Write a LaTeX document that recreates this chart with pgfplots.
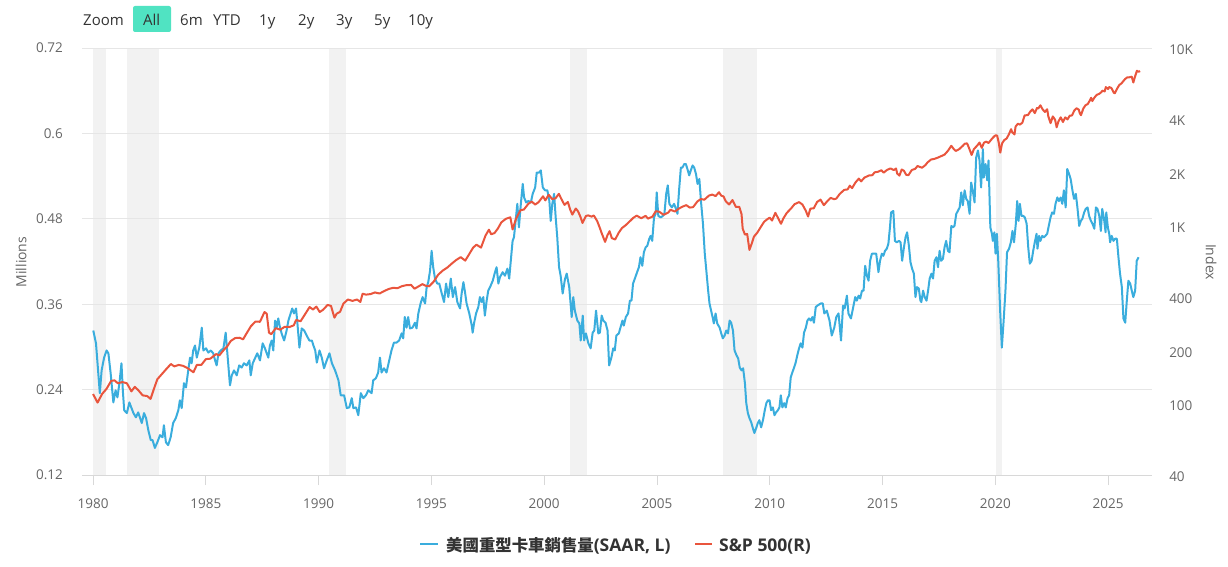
\documentclass[border=0pt]{standalone}
\usepackage{fontspec}
\setmainfont{Open Sans}
\newfontfamily\cjk{Noto Sans CJK TC}
\usepackage{pgfplots}
\pgfplotsset{compat=1.18}
\usepackage{pgfplotstable}
\definecolor{tblue}{HTML}{3AADDD}
\definecolor{sred}{HTML}{E9553D}
\definecolor{gridc}{HTML}{E6E6E6}
\definecolor{band}{HTML}{F2F2F2}
\definecolor{axisc}{HTML}{D8D8D8}
\definecolor{labc}{HTML}{666666}
\definecolor{btn}{HTML}{50E3C2}
\definecolor{txt}{HTML}{333333}

\pgfplotstableread{
x y
1980.01 0.323
1980.13 0.305
1980.30 0.235
1980.38 0.267
1980.49 0.285
1980.60 0.295
1980.68 0.291
1980.78 0.263
1980.90 0.222
1981.00 0.239
1981.08 0.229
1981.17 0.249
1981.26 0.277
1981.32 0.239
1981.38 0.211
1981.50 0.207
1981.61 0.222
1981.79 0.207
1981.90 0.201
1982.00 0.208
1982.16 0.193
1982.26 0.207
1982.35 0.200
1982.45 0.183
1982.56 0.169
1982.64 0.169
1982.74 0.158
1982.85 0.166
1982.97 0.176
1983.08 0.173
1983.14 0.190
1983.23 0.166
1983.33 0.162
1983.44 0.173
1983.55 0.193
1983.67 0.200
1983.78 0.211
1983.85 0.225
1983.93 0.214
1984.03 0.249
1984.12 0.243
1984.22 0.267
1984.30 0.285
1984.37 0.277
1984.44 0.295
1984.52 0.302
1984.60 0.285
1984.71 0.299
1984.82 0.327
1984.89 0.295
1985.01 0.298
1985.11 0.292
1985.22 0.295
1985.33 0.291
1985.41 0.281
1985.48 0.274
1985.56 0.291
1985.66 0.295
1985.78 0.298
1985.88 0.320
1985.97 0.285
1986.07 0.246
1986.15 0.260
1986.25 0.267
1986.37 0.260
1986.48 0.274
1986.59 0.271
1986.69 0.277
1986.81 0.274
1986.93 0.281
1986.99 0.260
1987.08 0.277
1987.18 0.284
1987.28 0.291
1987.40 0.281
1987.52 0.305
1987.62 0.298
1987.70 0.291
1987.77 0.285
1987.84 0.302
1987.92 0.309
1987.99 0.295
1988.07 0.337
1988.14 0.327
1988.21 0.340
1988.29 0.327
1988.36 0.319
1988.47 0.309
1988.58 0.323
1988.66 0.337
1988.76 0.347
1988.83 0.354
1988.91 0.347
1989.00 0.354
1989.06 0.333
1989.15 0.299
1989.25 0.326
1989.36 0.323
1989.47 0.316
1989.59 0.309
1989.70 0.309
1989.77 0.302
1989.85 0.295
1989.92 0.278
1990.04 0.295
1990.14 0.285
1990.24 0.270
1990.36 0.281
1990.48 0.291
1990.59 0.277
1990.73 0.267
1990.88 0.253
1990.98 0.232
1991.13 0.232
1991.25 0.214
1991.36 0.215
1991.47 0.228
1991.54 0.214
1991.66 0.215
1991.76 0.204
1991.87 0.235
1991.98 0.228
1992.10 0.232
1992.20 0.239
1992.35 0.235
1992.42 0.253
1992.54 0.256
1992.64 0.264
1992.72 0.285
1992.79 0.264
1992.90 0.270
1993.01 0.264
1993.13 0.281
1993.23 0.295
1993.34 0.306
1993.45 0.306
1993.57 0.309
1993.68 0.319
1993.75 0.312
1993.82 0.342
1993.90 0.327
1993.97 0.342
1994.05 0.326
1994.16 0.327
1994.27 0.334
1994.34 0.326
1994.42 0.347
1994.52 0.361
1994.61 0.370
1994.72 0.361
1994.79 0.384
1994.86 0.391
1994.94 0.407
1995.01 0.435
1995.08 0.412
1995.16 0.396
1995.26 0.389
1995.35 0.389
1995.46 0.375
1995.56 0.363
1995.65 0.389
1995.75 0.370
1995.86 0.396
1995.95 0.370
1996.05 0.384
1996.15 0.363
1996.27 0.354
1996.34 0.375
1996.42 0.391
1996.49 0.377
1996.56 0.361
1996.68 0.347
1996.79 0.330
1996.83 0.320
1996.89 0.333
1996.98 0.347
1997.08 0.356
1997.15 0.370
1997.23 0.363
1997.30 0.370
1997.37 0.344
1997.45 0.365
1997.52 0.379
1997.60 0.384
1997.72 0.393
1997.82 0.405
1997.89 0.412
1997.97 0.389
1998.04 0.398
1998.16 0.405
1998.26 0.400
1998.37 0.410
1998.45 0.396
1998.52 0.421
1998.60 0.449
1998.66 0.454
1998.75 0.482
1998.81 0.501
1998.88 0.468
1998.96 0.499
1999.05 0.529
1999.11 0.510
1999.20 0.503
1999.30 0.505
1999.41 0.503
1999.49 0.515
1999.60 0.524
1999.67 0.545
1999.78 0.545
1999.85 0.548
1999.94 0.524
2000.04 0.520
2000.14 0.520
2000.23 0.505
2000.29 0.477
2000.36 0.501
2000.44 0.515
2000.51 0.482
2000.58 0.454
2000.66 0.412
2000.73 0.400
2000.82 0.375
2000.92 0.395
2001.00 0.403
2001.11 0.384
2001.22 0.342
2001.29 0.370
2001.36 0.351
2001.47 0.337
2001.56 0.333
2001.62 0.309
2001.71 0.344
2001.77 0.309
2001.85 0.319
2001.96 0.305
2002.06 0.298
2002.15 0.320
2002.22 0.323
2002.30 0.351
2002.40 0.319
2002.47 0.320
2002.55 0.344
2002.62 0.337
2002.72 0.334
2002.81 0.323
2002.88 0.274
2002.98 0.285
2003.06 0.298
2003.13 0.295
2003.20 0.316
2003.31 0.319
2003.38 0.327
2003.47 0.337
2003.53 0.330
2003.62 0.342
2003.72 0.347
2003.80 0.365
2003.87 0.365
2003.94 0.389
2004.02 0.396
2004.12 0.405
2004.20 0.412
2004.27 0.426
2004.35 0.414
2004.42 0.433
2004.50 0.440
2004.57 0.442
2004.66 0.452
2004.72 0.456
2004.79 0.449
2004.87 0.482
2004.94 0.487
2004.99 0.517
2005.06 0.484
2005.17 0.482
2005.26 0.484
2005.33 0.487
2005.41 0.515
2005.48 0.527
2005.55 0.501
2005.66 0.496
2005.76 0.501
2005.84 0.494
2005.91 0.487
2005.98 0.520
2006.06 0.552
2006.13 0.552
2006.21 0.557
2006.28 0.557
2006.35 0.550
2006.43 0.541
2006.50 0.548
2006.58 0.555
2006.65 0.552
2006.73 0.543
2006.80 0.529
2006.88 0.536
2006.95 0.505
2007.04 0.473
2007.12 0.431
2007.19 0.407
2007.27 0.379
2007.33 0.361
2007.40 0.351
2007.48 0.340
2007.52 0.333
2007.60 0.347
2007.67 0.333
2007.78 0.327
2007.85 0.319
2007.92 0.312
2008.00 0.316
2008.07 0.323
2008.15 0.319
2008.22 0.337
2008.29 0.334
2008.37 0.323
2008.44 0.295
2008.53 0.288
2008.60 0.284
2008.67 0.271
2008.75 0.267
2008.82 0.270
2008.90 0.249
2008.96 0.221
2009.03 0.207
2009.10 0.200
2009.18 0.194
2009.25 0.186
2009.32 0.179
2009.40 0.186
2009.47 0.193
2009.54 0.197
2009.62 0.187
2009.70 0.197
2009.78 0.211
2009.85 0.221
2009.92 0.225
2009.99 0.225
2010.06 0.211
2010.14 0.215
2010.21 0.204
2010.28 0.208
2010.36 0.211
2010.43 0.215
2010.49 0.232
2010.56 0.215
2010.64 0.221
2010.71 0.215
2010.79 0.228
2010.86 0.232
2010.93 0.257
2011.00 0.264
2011.08 0.271
2011.15 0.278
2011.22 0.288
2011.30 0.298
2011.37 0.305
2011.45 0.299
2011.52 0.320
2011.60 0.327
2011.67 0.337
2011.74 0.340
2011.82 0.337
2011.89 0.342
2011.96 0.334
2012.04 0.356
2012.11 0.358
2012.26 0.361
2012.35 0.361
2012.42 0.347
2012.53 0.351
2012.65 0.337
2012.75 0.316
2012.86 0.327
2012.95 0.342
2013.05 0.347
2013.16 0.309
2013.25 0.358
2013.32 0.354
2013.42 0.372
2013.49 0.347
2013.60 0.340
2013.69 0.354
2013.79 0.370
2013.86 0.365
2013.94 0.372
2014.01 0.368
2014.09 0.379
2014.16 0.379
2014.23 0.414
2014.31 0.400
2014.38 0.393
2014.45 0.421
2014.53 0.431
2014.63 0.431
2014.72 0.431
2014.82 0.405
2014.89 0.421
2014.97 0.431
2015.04 0.428
2015.11 0.435
2015.19 0.438
2015.26 0.445
2015.33 0.468
2015.38 0.489
2015.48 0.491
2015.55 0.449
2015.63 0.447
2015.73 0.449
2015.80 0.447
2015.87 0.421
2015.95 0.440
2016.02 0.454
2016.09 0.461
2016.17 0.442
2016.24 0.419
2016.31 0.410
2016.39 0.403
2016.46 0.370
2016.53 0.384
2016.61 0.382
2016.68 0.365
2016.72 0.363
2016.80 0.379
2016.87 0.370
2016.95 0.365
2017.02 0.379
2017.09 0.396
2017.17 0.403
2017.24 0.396
2017.31 0.421
2017.39 0.426
2017.46 0.412
2017.53 0.435
2017.60 0.421
2017.68 0.424
2017.75 0.440
2017.82 0.449
2017.90 0.435
2017.97 0.433
2018.05 0.470
2018.12 0.468
2018.19 0.470
2018.27 0.487
2018.34 0.491
2018.42 0.496
2018.49 0.517
2018.56 0.499
2018.64 0.520
2018.71 0.508
2018.78 0.505
2018.86 0.487
2018.93 0.531
2019.00 0.520
2019.08 0.503
2019.15 0.566
2019.23 0.576
2019.30 0.562
2019.37 0.524
2019.45 0.578
2019.49 0.538
2019.57 0.557
2019.64 0.534
2019.70 0.562
2019.78 0.468
2019.85 0.459
2019.89 0.449
2019.96 0.461
2020.01 0.431
2020.07 0.459
2020.13 0.421
2020.22 0.347
2020.29 0.299
2020.37 0.337
2020.45 0.379
2020.52 0.433
2020.61 0.438
2020.69 0.447
2020.76 0.463
2020.83 0.447
2020.91 0.473
2020.97 0.505
2021.03 0.477
2021.09 0.501
2021.16 0.484
2021.24 0.484
2021.31 0.482
2021.39 0.473
2021.46 0.440
2021.53 0.417
2021.61 0.421
2021.68 0.435
2021.75 0.447
2021.83 0.459
2021.87 0.438
2021.94 0.456
2022.00 0.449
2022.08 0.456
2022.15 0.454
2022.22 0.456
2022.30 0.459
2022.37 0.470
2022.45 0.482
2022.52 0.489
2022.60 0.487
2022.67 0.501
2022.75 0.510
2022.82 0.505
2022.90 0.510
2022.97 0.501
2023.04 0.520
2023.12 0.496
2023.19 0.550
2023.27 0.543
2023.34 0.536
2023.42 0.520
2023.49 0.508
2023.57 0.515
2023.64 0.496
2023.72 0.470
2023.79 0.477
2023.86 0.480
2023.94 0.489
2024.01 0.494
2024.09 0.496
2024.16 0.484
2024.24 0.477
2024.31 0.473
2024.39 0.466
2024.46 0.496
2024.53 0.494
2024.61 0.484
2024.68 0.463
2024.74 0.494
2024.82 0.480
2024.89 0.461
2024.92 0.489
2024.99 0.468
2025.05 0.459
2025.09 0.447
2025.16 0.456
2025.24 0.449
2025.31 0.452
2025.39 0.452
2025.46 0.426
2025.53 0.403
2025.61 0.384
2025.68 0.340
2025.76 0.334
2025.83 0.365
2025.90 0.393
2025.98 0.389
2026.05 0.379
2026.12 0.370
2026.20 0.379
2026.27 0.421
2026.35 0.426
}\trucks

\pgfplotstableread{
x y
1980.00 114
1980.20 102
1980.40 114
1980.60 122
1980.80 135
1980.95 136
1981.10 131
1981.30 133
1981.50 131
1981.70 118
1981.85 125
1982.00 120
1982.20 112
1982.40 111
1982.55 107
1982.70 122
1982.85 138
1983.00 145
1983.20 155
1983.45 168
1983.60 163
1983.80 166
1984.00 164
1984.20 159
1984.45 151
1984.60 166
1984.80 166
1985.00 179
1985.20 180
1985.45 191
1985.60 188
1985.80 202
1985.95 211
1986.10 226
1986.30 235
1986.50 236
1986.65 231
1986.80 249
1987.00 274
1987.20 291
1987.40 290
1987.60 329
1987.70 322
1987.80 252
1987.90 247
1988.10 267
1988.30 262
1988.50 272
1988.70 271
1988.90 277
1989.00 297
1989.20 292
1989.40 320
1989.60 351
1989.75 340
1989.90 353
1990.05 329
1990.20 339
1990.40 361
1990.55 356
1990.70 306
1990.80 322
1990.95 330
1991.10 367
1991.30 387
1991.50 380
1991.70 387
1991.85 375
1991.95 417
1992.10 412
1992.30 415
1992.50 424
1992.70 418
1992.90 431
1993.10 443
1993.30 450
1993.50 448
1993.70 460
1993.90 466
1994.10 467
1994.25 445
1994.40 456
1994.60 472
1994.75 462
1994.90 459
1995.10 487
1995.30 533
1995.50 562
1995.70 584
1995.90 615
1996.10 645
1996.30 669
1996.50 640
1996.65 687
1996.85 757
1997.00 786
1997.20 757
1997.40 885
1997.55 954
1997.65 899
1997.80 914
1997.95 970
1998.10 1049
1998.30 1098
1998.50 1120
1998.60 957
1998.75 1098
1998.95 1229
1999.10 1238
1999.30 1335
1999.45 1373
1999.60 1320
1999.75 1362
1999.95 1469
2000.05 1394
2000.20 1499
2000.35 1420
2000.50 1430
2000.65 1517
2000.75 1429
2000.90 1315
2001.05 1366
2001.15 1240
2001.25 1160
2001.40 1255
2001.50 1211
2001.60 1134
2001.70 1041
2001.85 1139
2001.95 1148
2002.10 1130
2002.20 1147
2002.35 1067
2002.45 990
2002.55 912
2002.70 815
2002.80 885
2002.90 936
2003.00 855
2003.15 841
2003.30 916
2003.45 975
2003.60 1008
2003.75 1050
2003.95 1112
2004.10 1145
2004.30 1107
2004.50 1141
2004.60 1101
2004.80 1130
2004.95 1212
2005.10 1204
2005.30 1156
2005.50 1191
2005.60 1234
2005.80 1207
2005.95 1248
2006.10 1280
2006.30 1311
2006.45 1270
2006.60 1277
2006.80 1378
2006.95 1418
2007.10 1406
2007.30 1482
2007.45 1503
2007.60 1474
2007.75 1549
2007.85 1481
2007.95 1468
2008.05 1378
2008.20 1322
2008.35 1400
2008.50 1280
2008.65 1283
2008.75 1166
2008.80 968
2008.90 896
2009.00 903
2009.10 735
2009.20 797
2009.30 872
2009.45 919
2009.60 987
2009.75 1057
2009.90 1095
2010.00 1115
2010.10 1074
2010.25 1187
2010.40 1089
2010.50 1030
2010.60 1101
2010.75 1183
2010.95 1258
2011.10 1327
2011.30 1363
2011.45 1321
2011.60 1218
2011.70 1131
2011.80 1253
2011.95 1258
2012.10 1366
2012.25 1408
2012.40 1310
2012.55 1379
2012.70 1440
2012.85 1416
2012.95 1426
2013.10 1514
2013.30 1597
2013.45 1606
2013.55 1686
2013.65 1633
2013.80 1757
2013.95 1848
2014.05 1783
2014.20 1872
2014.40 1924
2014.55 1931
2014.65 2003
2014.80 2018
2014.95 2059
2015.05 1995
2015.20 2067
2015.35 2107
2015.50 2063
2015.60 2104
2015.65 1972
2015.75 1920
2015.85 2079
2015.95 2044
2016.05 1940
2016.15 1932
2016.30 2065
2016.45 2097
2016.55 2174
2016.75 2126
2016.90 2199
2017.00 2279
2017.15 2364
2017.30 2384
2017.45 2423
2017.60 2470
2017.75 2519
2017.90 2647
2018.05 2824
2018.15 2714
2018.25 2641
2018.40 2705
2018.55 2816
2018.65 2902
2018.75 2914
2018.85 2712
2018.95 2507
2019.05 2704
2019.20 2834
2019.30 2946
2019.40 2752
2019.50 2942
2019.60 2980
2019.70 2926
2019.80 3037
2019.90 3141
2020.00 3231
2020.08 3225
2020.15 2954
2020.22 2585
2020.30 2912
2020.40 3044
2020.50 3100
2020.60 3271
2020.70 3500
2020.75 3363
2020.85 3270
2020.90 3622
2021.00 3756
2021.10 3714
2021.20 3811
2021.30 4181
2021.45 4204
2021.55 4395
2021.65 4522
2021.75 4307
2021.85 4605
2021.90 4567
2022.00 4766
2022.10 4516
2022.20 4374
2022.30 4530
2022.35 4132
2022.45 3785
2022.55 4130
2022.65 3955
2022.72 3585
2022.80 3872
2022.90 4080
2023.00 3840
2023.10 4077
2023.20 3970
2023.30 4169
2023.40 4180
2023.50 4450
2023.60 4589
2023.70 4508
2023.75 4288
2023.80 4194
2023.90 4568
2024.00 4770
2024.10 4846
2024.20 5096
2024.25 5254
2024.30 5036
2024.40 5278
2024.50 5460
2024.60 5522
2024.70 5648
2024.75 5762
2024.85 5705
2024.90 6032
2025.00 5882
2025.05 6040
2025.15 5955
2025.25 5612
2025.30 5570
2025.40 5912
2025.50 6205
2025.60 6339
2025.65 6460
2025.75 6688
2025.85 6840
2025.95 6849
2026.05 6900
2026.12 6400
2026.20 6950
2026.28 7450
2026.35 7350
2026.42 7420
}\spx

\begin{document}
\begin{tikzpicture}[x=1pt,y=1pt]
\path[use as bounding box] (0,0) rectangle (1228,566);

% range selector
\fill[btn, rounded corners=2pt] (133,534) rectangle (171,560);
\begin{scope}[every node/.style={anchor=base west, inner sep=0pt, text=txt, font=\fontsize{15}{18}\selectfont}]
\node at (83,540) {Zoom};
\node at (143,540) {All};
\node at (180,540) {6m};
\node at (213,540) {YTD};
\node at (259,540) {1y};
\node at (298,540) {2y};
\node at (336,540) {3y};
\node at (374,540) {5y};
\node at (408,540) {10y};
\end{scope}

% recession bands
\begin{axis}[at={(82pt,91pt)}, anchor=south west, scale only axis,
  width=1070pt, height=427pt, xmin=1979.51, xmax=2026.95,
  ymin=0.12, ymax=0.72, hide axis]
\addplot[fill=band, draw=none] coordinates {(1980.0,0.12) (1980.0,0.72) (1980.58,0.72) (1980.58,0.12)} -- cycle;
\addplot[fill=band, draw=none] coordinates {(1981.49,0.12) (1981.49,0.72) (1982.92,0.72) (1982.92,0.12)} -- cycle;
\addplot[fill=band, draw=none] coordinates {(1990.48,0.12) (1990.48,0.72) (1991.22,0.72) (1991.22,0.12)} -- cycle;
\addplot[fill=band, draw=none] coordinates {(2001.15,0.12) (2001.15,0.72) (2001.88,0.72) (2001.88,0.12)} -- cycle;
\addplot[fill=band, draw=none] coordinates {(2007.94,0.12) (2007.94,0.72) (2009.45,0.72) (2009.45,0.12)} -- cycle;
\addplot[fill=band, draw=none] coordinates {(2020.05,0.12) (2020.05,0.72) (2020.29,0.72) (2020.29,0.12)} -- cycle;
\end{axis}

% left axis: trucks
\begin{axis}[at={(82pt,91pt)}, anchor=south west, scale only axis,
  width=1070pt, height=427pt, xmin=1979.51, xmax=2026.95,
  ymin=0.12, ymax=0.72,
  axis x line*=bottom, axis y line*=left,
  x axis line style={draw=axisc, line width=0.9pt, -},
  y axis line style={draw=none},
  xtick={1980,1985,1990,1995,2000,2005,2010,2015,2020,2025},
  xticklabels={1980,1985,1990,1995,2000,2005,2010,2015,2020,2025},
  ytick={0.12,0.24,0.36,0.48,0.6,0.72},
  yticklabels={0.12,0.24,0.36,0.48,0.6,0.72},
  tick align=outside, major tick length=10pt,
  xtick style={draw=axisc, line width=0.9pt},
  ytick style={draw=none},
  ymajorgrids, grid style={draw=gridc, line width=0.9pt},
  xticklabel style={font=\fontsize{13.5}{16}\selectfont, text=labc, yshift=-10pt},
  yticklabel style={font=\fontsize{13.5}{16}\selectfont, text=labc, anchor=east, inner sep=0pt, xshift=-9pt},
  clip=false]
\addplot[tblue, line width=2pt, line join=round, no markers] table[x=x, y=y] {\trucks};
\end{axis}

% right axis: S&P 500
\begin{axis}[at={(82pt,91pt)}, anchor=south west, scale only axis,
  width=1070pt, height=427pt, xmin=1979.51, xmax=2026.95,
  ymode=log, ymin=40, ymax=10000,
  axis x line=none, axis y line*=right,
  y axis line style={draw=none},
  ytick={40,100,200,400,1000,2000,4000,10000},
  yticklabels={40,100,200,400,1K,2K,4K,10K},
  ytick style={draw=none}, minor ytick={}, minor tick length=0pt,
  yticklabel style={font=\fontsize{13.5}{16}\selectfont, text=labc, anchor=west, inner sep=0pt, xshift=17pt, yshift=-2pt},
  clip=false]
\addplot[sred, line width=2pt, line join=round, no markers] table[x=x, y=y] {\spx};
\end{axis}

% axis titles
\node[rotate=90, text=labc, font=\fontsize{14}{16}\selectfont] at (21,304) {Millions};
\node[rotate=-90, text=labc, font=\fontsize{14}{16}\selectfont] at (1211,304) {Index};

% legend
\draw[tblue, line width=2.5pt] (420,22) -- (438,22);
\node[anchor=base west, inner sep=0pt, text=txt, font=\fontsize{17.5}{20}\selectfont\bfseries] at (446,15) {{\cjk\fontsize{16.4}{20}\selectfont 美國重型卡車銷售量}(SAAR, L)};
\draw[sred, line width=2.5pt] (695,22) -- (712,22);
\node[anchor=base west, inner sep=0pt, text=txt, font=\fontsize{17.5}{20}\selectfont\bfseries] at (719,15) {S\&P 500(R)};
\end{tikzpicture}
\end{document}
